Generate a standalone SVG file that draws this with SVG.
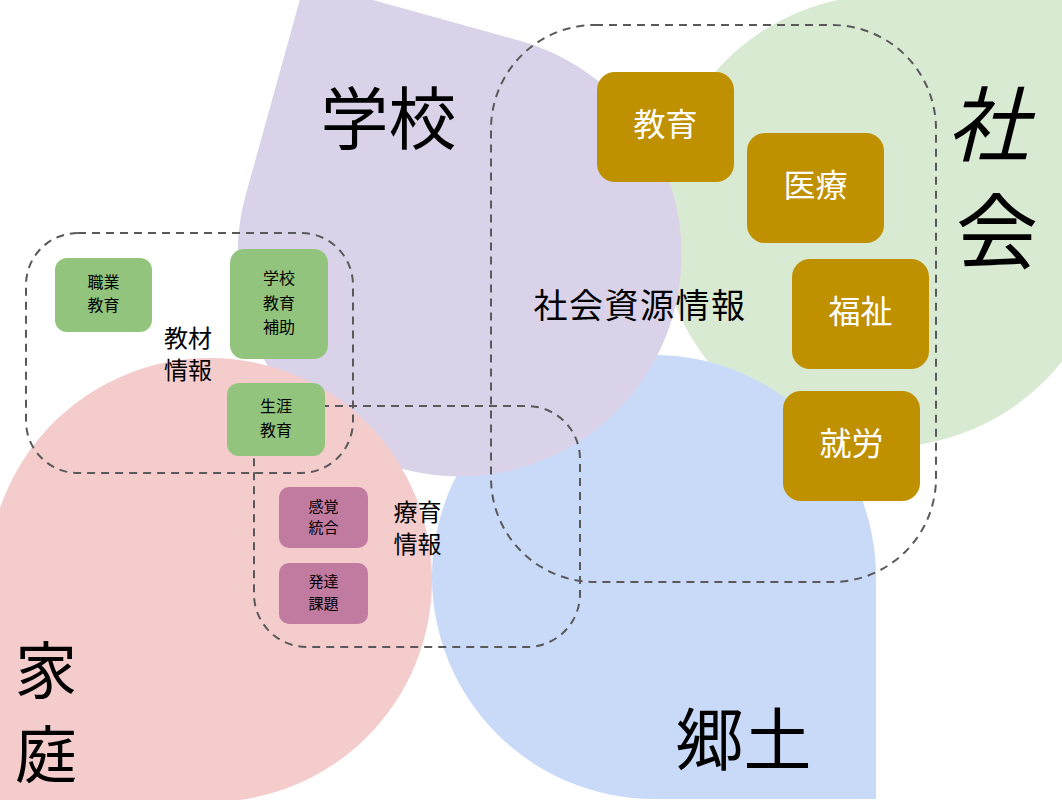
<svg xmlns="http://www.w3.org/2000/svg" width="1062" height="800" viewBox="0 0 1062 800">
<style>
text{font-family:"Noto Sans CJK JP","Noto Sans CJK SC",sans-serif;fill:#000;text-anchor:middle}
.region{fill:none;stroke:#595959;stroke-width:2;stroke-dasharray:8 6}
.g{fill:#93c47d}
.m{fill:#c27ba0}
.o{fill:#bf9000}
.s16{font-size:16px}
.s15{font-size:15px}
.s24{font-size:24px}
.w{fill:#fff;font-size:32px}
</style>
<rect width="1062" height="800" fill="#fff"/>
<g id="areas">
<path id="area-shakai" d="M1111 -5 L1111 221 A226 226 0 0 1 885 447 A226 226 0 0 1 659 221 A226 226 0 0 1 885 -5 Z" fill="#d9ead3"/>
<path id="area-kyodo" d="M876 799 L654 799 A222 222 0 0 1 432 577 A222 222 0 0 1 654 355 A222 222 0 0 1 876 577 Z" fill="#c9daf8"/>
<path id="area-gakko" d="M305 -18.8 L518.9 40.5 A222 222 0 0 1 673.5 313.7 A222 222 0 0 1 400.3 468.3 A222 222 0 0 1 245.7 195.1 Z" fill="#d9d2e9"/>
<path id="area-katei" d="M-12 802 L-12 580 A222 222 0 0 1 210 358 A222 222 0 0 1 432 580 A222 222 0 0 1 210 802 Z" fill="#f4cccc"/>
</g>
<g id="connectors">
<rect class="region" x="26" y="233" width="327" height="240" rx="52"/>
<rect class="region" x="254" y="406" width="326" height="241" rx="53"/>
<rect class="region" x="491" y="25" width="445" height="557" rx="104"/>
</g>
<g id="node-shokugyo"><rect class="g" x="55" y="258" width="97" height="74" rx="12"/><text class="s16"><tspan x="103.5" y="288">職業</tspan><tspan x="103.5" y="311">教育</tspan></text></g>
<g id="node-gakkohojo"><rect class="g" x="230" y="249" width="98" height="110" rx="14"/><text class="s16"><tspan x="279" y="284">学校</tspan><tspan x="279" y="309">教育</tspan><tspan x="279" y="333">補助</tspan></text></g>
<g id="node-shogai"><rect class="g" x="227" y="383" width="98" height="73" rx="12"/><text class="s16"><tspan x="276" y="411.5">生涯</tspan><tspan x="276" y="436">教育</tspan></text></g>
<g id="node-kankaku"><rect class="m" x="279" y="487" width="89" height="61" rx="10"/><text class="s15"><tspan x="323.5" y="512">感覚</tspan><tspan x="323.5" y="533">統合</tspan></text></g>
<g id="node-hattatsu"><rect class="m" x="279" y="563" width="89" height="61" rx="10"/><text class="s15"><tspan x="323.5" y="587">発達</tspan><tspan x="323.5" y="609">課題</tspan></text></g>
<g id="node-kyoiku"><rect class="o" x="597" y="72" width="137" height="110" rx="18"/><text class="w" x="665.5" y="136">教育</text></g>
<g id="node-iryo"><rect class="o" x="747" y="133" width="137" height="110" rx="18"/><text class="w" x="815.5" y="197">医療</text></g>
<g id="node-fukushi"><rect class="o" x="792" y="259" width="137" height="110" rx="18"/><text class="w" x="860.5" y="323">福祉</text></g>
<g id="node-shuro"><rect class="o" x="783" y="391" width="137" height="110" rx="18"/><text class="w" x="851.5" y="455">就労</text></g>
<g id="labels">
<text class="s24"><tspan x="188" y="346.5">教材</tspan><tspan x="188" y="378.5">情報</tspan></text>
<text class="s24"><tspan x="417.5" y="521">療育</tspan><tspan x="417.5" y="553">情報</tspan></text>
<text x="640" y="318" style="font-size:34px;letter-spacing:1.5px">社会資源情報</text>
<text x="388.5" y="144" style="font-size:68px">学校</text>
<text x="743.5" y="764.5" style="font-size:68px">郷土</text>
<text style="font-size:62px"><tspan x="46" y="694">家</tspan><tspan x="46" y="778">庭</tspan></text>
<text style="font-size:82px"><tspan x="988" y="155" style="font-style:italic">社</tspan><tspan x="997" y="262">会</tspan></text>
</g>
</svg>
